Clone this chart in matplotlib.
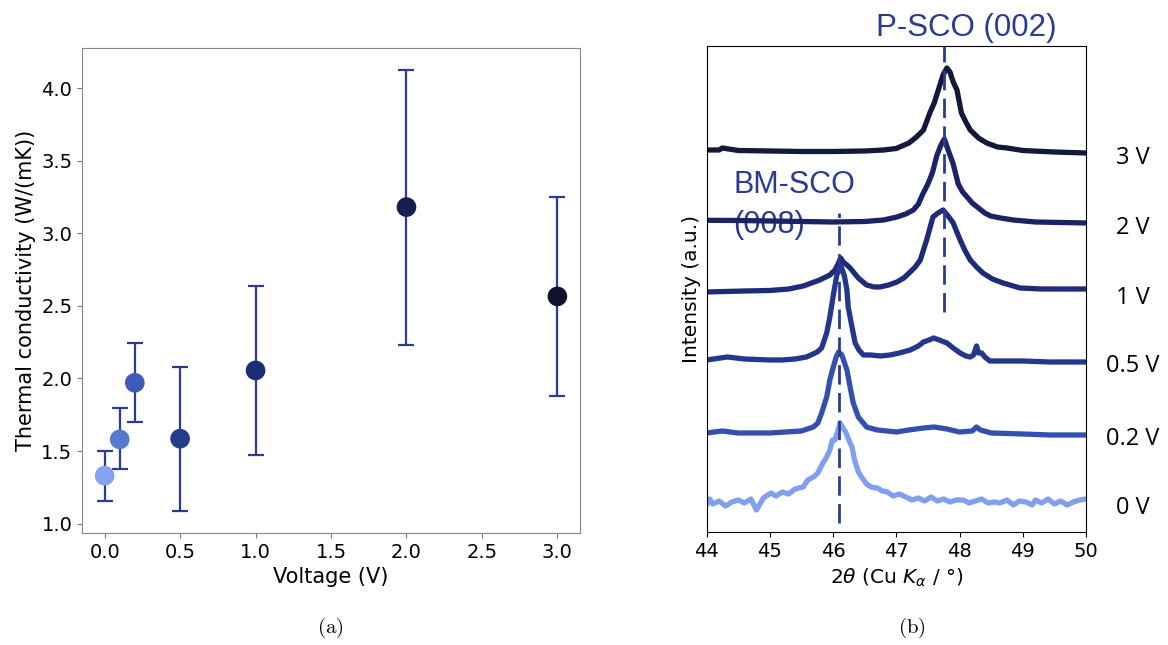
import numpy as np
import matplotlib.pyplot as plt

plt.rcParams['mathtext.fontset'] = 'dejavusans'

# (a) thermal conductivity vs gating voltage
voltage = [0.0, 0.1, 0.2, 0.5, 1.0, 2.0, 3.0]
kappa = [1.33, 1.58, 1.97, 1.585, 2.055, 3.18, 2.565]
kappa_low = [1.155, 1.375, 1.70, 1.087, 1.475, 2.233, 1.876]
kappa_high = [1.497, 1.794, 2.243, 2.08, 2.635, 4.124, 3.25]
point_colors = ['#83a3ef', '#5679cf', '#3c5cb5', '#213d8c', '#1b2e74', '#151f52', '#0f1228']

# (b) XRD scans, intensity above each baseline (a.u.)
tt_3v = [44.0, 44.2, 44.25, 44.5, 45.0, 45.5, 46.0, 46.5, 46.8, 47.0, 47.2, 47.32, 47.43, 47.53,
         47.6, 47.67, 47.74, 47.8, 47.85, 47.9, 47.96, 48.03, 48.1, 48.17, 48.3, 48.43, 48.6,
         48.75, 49.0, 49.5, 50.0]
int_3v = [2, 2, 4, 1.5, 1, 0.5, 0.5, 1, 2, 3.5, 9, 15, 22, 39, 49, 63, 77, 84, 80, 70, 62, 39,
          30, 22, 14, 9, 5, 4, 1.5, 0, -1]

tt_2v = [44.0, 44.5, 45.0, 45.5, 46.0, 46.5, 46.8, 47.01, 47.15, 47.27, 47.35, 47.42, 47.5,
         47.57, 47.64, 47.7, 47.76, 47.82, 47.9, 47.98, 48.05, 48.12, 48.2, 48.28, 48.4, 48.49,
         48.65, 48.85, 49.2, 49.6, 50.0]
int_2v = [1.7, 1.5, 1, 0.5, 0, 0.5, 2, 5, 8, 12, 18, 28, 38, 49, 66, 76, 83, 72, 58, 38, 30, 25,
          19, 15, 9, 6, 4, 2, 0, -0.5, -1]

tt_1v = [44.0, 44.3, 44.6, 45.0, 45.3, 45.53, 45.79, 45.95, 46.03, 46.08, 46.12, 46.16, 46.22,
         46.27, 46.4, 46.53, 46.65, 46.74, 46.88, 47.01, 47.12, 47.22, 47.3, 47.38, 47.48, 47.58,
         47.66, 47.74, 47.82, 47.9, 48.01, 48.09, 48.17, 48.27, 48.37, 48.52, 48.69, 48.85,
         48.96, 49.3, 49.6, 50.0]
int_1v = [0, 0.5, 1, 1.5, 3, 6, 12, 17, 22, 28, 34, 30, 27, 24, 14, 7, 5, 5, 7, 10, 14, 20, 25,
          32, 52, 75, 79, 82, 76, 69, 52, 41, 32, 25, 19, 13, 9, 6, 4, 3, 3, 3]

tt_05v = [44.0, 44.33, 44.6, 45.0, 45.19, 45.4, 45.58, 45.65, 45.75, 45.82, 45.9, 45.95, 46.0,
          46.06, 46.12, 46.18, 46.22, 46.24, 46.3, 46.35, 46.41, 46.48, 46.6, 46.75, 46.9, 47.05,
          47.22, 47.35, 47.43, 47.52, 47.59, 47.68, 47.8, 47.9, 48.01, 48.1, 48.17, 48.22, 48.27,
          48.3, 48.35, 48.4, 48.48, 48.7, 49.0, 49.43, 49.7, 50.0]
int_05v = [0, 3, 1, 0, 0, 1, 3, 5, 8, 12, 27, 43, 63, 85, 95, 84, 70, 53, 33, 17, 10, 5, 5, 4, 5,
           7, 10, 14, 18, 20, 22, 20, 17, 12, 7, 4, 3, 5, 14, 7, 7, 3, -1, -1, -1, -2, -2, -2]

tt_02v = [44.0, 44.25, 44.5, 45.0, 45.5, 45.69, 45.76, 45.82, 45.9, 45.95, 46.0, 46.05, 46.09,
          46.14, 46.22, 46.27, 46.32, 46.4, 46.53, 46.7, 47.0, 47.2, 47.43, 47.6, 47.8, 48.0,
          48.2, 48.27, 48.33, 48.5, 49.0, 49.43, 50.0]
int_02v = [0, 2, 0, 0, 2, 6, 10, 20, 36, 53, 65, 76, 81, 78, 63, 46, 30, 16, 6, 3, 1, 3, 5, 6, 4,
           1, 2, 6, 3, 0, -1, -2, -2]

tt_0v = [44.0, 44.05, 44.1, 44.2, 44.3, 44.4, 44.5, 44.6, 44.7, 44.79, 44.9, 45.02, 45.1, 45.2,
         45.3, 45.4, 45.53, 45.6, 45.69, 45.76, 45.84, 45.9, 45.95, 45.99, 46.03, 46.08, 46.11,
         46.14, 46.2, 46.25, 46.3, 46.34, 46.4, 46.45, 46.53, 46.6, 46.7, 46.78, 46.86, 46.95,
         47.05, 47.15, 47.25, 47.35, 47.45, 47.55, 47.65, 47.75, 47.85, 47.95, 48.06, 48.15,
         48.25, 48.35, 48.45, 48.55, 48.64, 48.75, 48.85, 48.95, 49.05, 49.15, 49.2, 49.3, 49.4,
         49.5, 49.6, 49.7, 49.8, 49.9, 50.0]
int_0v = [-3, 3, -2, 1, -4, 0, 2, -1, 3, -8, 4, 9, 6, 10, 8, 13, 15, 22, 25, 29, 39, 45, 52, 62,
          62, 72, 79, 76, 70, 62, 55, 42, 30, 25, 18, 15, 14, 11, 10, 6, 8, 5, 2, 4, 1, 5, 1, 3,
          0, 2, 2, -1, 1, 3, -1, 0, -1, 2, -3, 1, 0, -3, 2, -1, 3, -2, 1, -3, 0, 2, 3]

scan_tt = [tt_3v, tt_2v, tt_1v, tt_05v, tt_02v, tt_0v]
scan_int = [int_3v, int_2v, int_1v, int_05v, int_02v, int_0v]
scan_offset = [380, 310, 240, 172, 99, 30]
scan_labels = ['3 V', '2 V', '1 V', '0.5 V', '0.2 V', '0 V']
scan_colors = ['#14183a', '#1a2366', '#1e2b78', '#22378d', '#3350ae', '#80a0ef']

bm_peak = 46.1
p_peak = 47.75
annot_color = '#2b3b94'

fig = plt.figure(figsize=(11.68, 6.45), dpi=100)

# ---- (a) ----
ax = fig.add_axes([0.0702, 0.1736, 0.4264, 0.752])
k = np.array(kappa)
yerr = [k - np.array(kappa_low), np.array(kappa_high) - k]
ax.errorbar(voltage, kappa, yerr=yerr, fmt='none', ecolor='#2c3b96', elinewidth=1.6,
            capsize=6, capthick=1.6, zorder=2)
ax.scatter(voltage, kappa, s=200, c=point_colors, zorder=3, linewidths=0)
ax.set_xlabel('Voltage (V)', fontsize=15)
ax.set_ylabel('Thermal conductivity (W/(mK))', fontsize=15)
ax.set_yticks([1.0, 1.5, 2.0, 2.5, 3.0, 3.5, 4.0])
ax.set_xticks([0.0, 0.5, 1.0, 1.5, 2.0, 2.5, 3.0])
ax.tick_params(labelsize=14, color='#777777')
for s in ax.spines.values():
    s.set_color('#888888')
fig.text(0.283, 0.026, r'$\mathrm{(a)}$', fontsize=15, ha='center', va='center',
         math_fontfamily='cm')

# ---- (b) ----
bx = fig.add_axes([0.6049, 0.1752, 0.3249, 0.7535])
for tt, inten, off, col in zip(scan_tt, scan_int, scan_offset, scan_colors):
    bx.plot(tt, np.array(inten) + off, color=col, lw=3.8, solid_capstyle='round',
            solid_joinstyle='round', zorder=2)
for off, lab in zip(scan_offset, scan_labels):
    bx.text(1.124, off - 6, lab, transform=bx.get_yaxis_transform(), fontsize=17,
            family='Open Sans', ha='center', va='center')

bx.plot([bm_peak, bm_peak], [9, 319], color=annot_color, lw=2, dashes=[7, 3], zorder=3)
bx.plot([p_peak, p_peak], [220, 486], color=annot_color, lw=2, dashes=[7, 3], zorder=3,
        clip_on=False)
bx.text(48.1, 504, 'P-SCO (002)', color=annot_color, fontsize=22.5, family='Liberation Sans',
        ha='center', va='center', zorder=1)
bx.text(44.42, 347, 'BM-SCO', color=annot_color, fontsize=22, family='Liberation Sans',
        ha='left', va='center', zorder=1)
bx.text(44.42, 307, '(008)', color=annot_color, fontsize=22, family='Liberation Sans',
        ha='left', va='center', zorder=1)

bx.set_xlim(44, 50)
bx.set_ylim(0, 486)
bx.set_yticks([])
bx.set_xticks([44, 45, 46, 47, 48, 49, 50])
bx.tick_params(labelsize=14)
bx.set_xlabel(r'2$\theta$ (Cu $K_\alpha$ / °)', fontsize=14.5)
bx.set_ylabel('Intensity (a.u.)', fontsize=14.5)
fig.text(0.781, 0.026, r'$\mathrm{(b)}$', fontsize=15, ha='center', va='center',
         math_fontfamily='cm')

plt.savefig('out.png', dpi=100)
plt.close()
